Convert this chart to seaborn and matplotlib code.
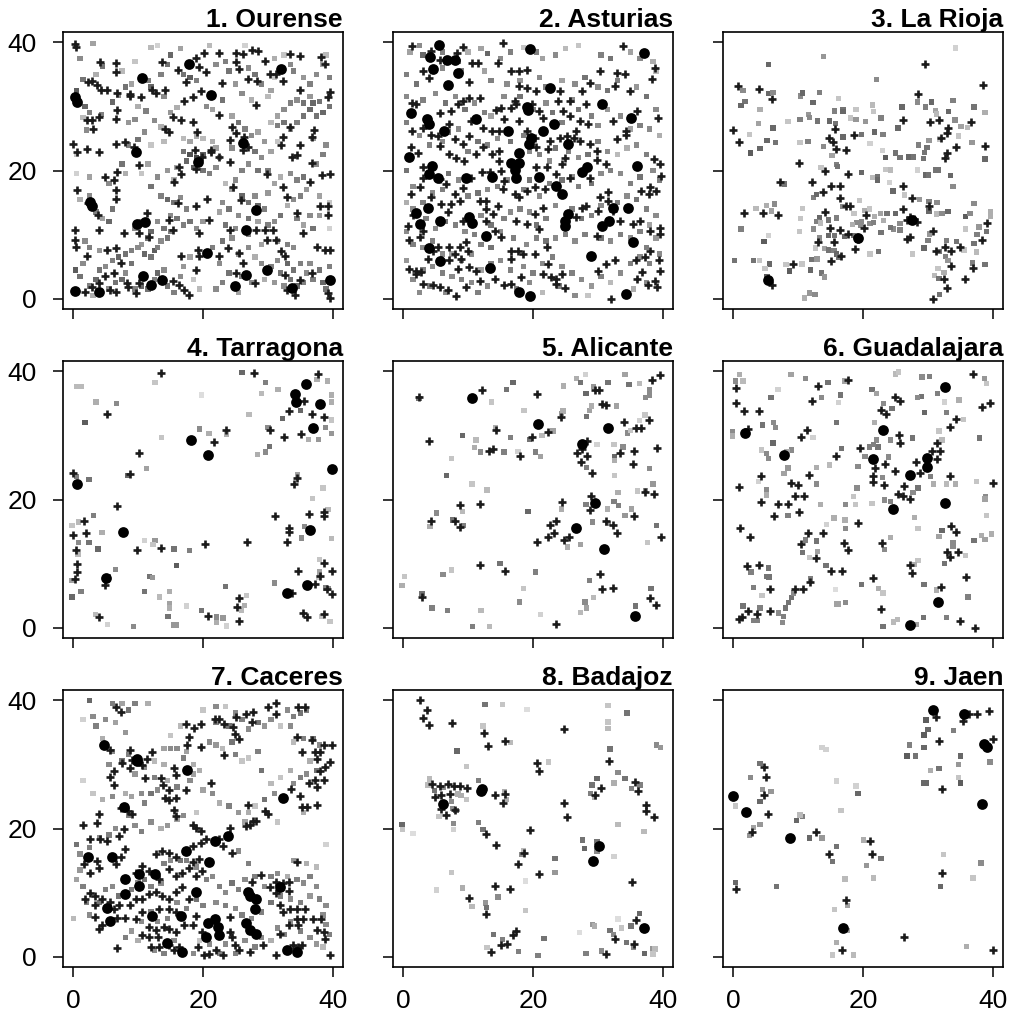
import matplotlib
matplotlib.use("Agg")
import matplotlib.pyplot as plt
import seaborn as sns
import pandas as pd

TITLES = ["1. Ourense", "2. Asturias", "3. La Rioja", "4. Tarragona", "5. Alicante",
          "6. Guadalajara", "7. Caceres", "8. Badajoz", "9. Jaen"]
TICKS = [0, 20, 40]

# ---------------- Panel 1: Ourense ----------------
P1_CI = [(0.3,31.5),(0.5,30.7),(2.6,15.1),(2.8,14.4),(9.6,22.9),(10.6,34.5),(9.8,11.7),(11.1,11.9),(19.3,21.3),
         (21.2,31.7),(20.6,7.1),(26.7,10.7),(26.1,24.3),(32.0,35.9),(28.2,13.8),(29.9,4.5),(26.6,3.7),(24.9,2.0),
         (33.7,1.7),(39.6,3.0),(0.3,1.2),(3.9,1.1),(10.7,3.5),(13.7,3.0),(11.9,2.2),(17.9,36.6)]
P1_CR = [(0.2,39.7),(0.4,39.2),(4.1,36.9),(6.5,36.7),(6.6,35.4),(2.2,33.8),(2.8,34.0),(3.6,33.4),(4.3,32.6),(5.2,32.5),
         (6.7,32.1),(8.8,32.0),(8.8,31.6),(10.5,31.5),(12.2,32.5),(12.8,32.1),(14.2,32.6),(13.7,36.9),(16.1,35.6),(17.4,33.8),
         (17.1,30.9),(18.4,31.5),(19.7,32.4),(18.9,37.6),(20.2,38.4),(19.4,36.1),(20.5,35.3),(22.5,38.3),(22.9,33.6),(25.1,38.3),
         (26.2,38.2),(27.6,38.8),(28.5,38.7),(25.1,36.9),(25.6,35.9),(26.9,34.3),(29.5,37.0),(30.3,35.1),(28.4,34.0),(31.3,35.1),
         (32.4,34.0),(33.4,38.2),(35.0,37.8),(34.9,32.6),(28.2,30.2),(39.3,31.5),(39.6,32.2),(38.9,36.6),(38.2,37.7),(0.0,24.2),
         (0.6,22.9),(2.1,23.3),(3.9,22.9),(2.1,27.8),(3.1,26.4),(2.9,27.9),(3.9,28.3),(6.5,28.1),(6.7,29.4),(6.5,24.2),
         (8.0,24.5),(9.3,23.7),(10.1,20.8),(6.7,19.8),(4.9,19.0),(6.2,18.5),(6.5,16.9),(6.5,15.6),(0.6,16.9),(2.3,14.9),
         (3.8,13.1),(3.9,10.7),(0.3,10.7),(0.3,9.2),(0.4,8.1),(2.1,6.6),(5.2,7.6),(6.5,7.9),(7.3,5.5),(6.2,4.0),
         (4.9,3.5),(3.9,2.4),(2.8,1.9),(1.8,1.1),(5.7,1.4),(6.5,1.0),(8.5,1.9),(9.6,0.9),(8.3,2.4),(10.1,2.4),
         (11.4,13.3),(10.1,10.2),(11.7,9.6),(7.8,10.2),(15.3,2.7),(16.3,2.2),(17.1,1.4),(17.9,0.6),(15.3,10.7),(16.1,14.9),
         (14.8,12.3),(14.8,26.0),(14.2,26.5),(15.3,28.3),(16.6,27.8),(18.4,27.6),(19.1,26.0),(16.3,20.6),(16.6,19.5),(15.5,18.2),
         (18.9,14.4),(18.9,20.3),(18.7,23.2),(21.2,23.2),(19.9,22.1),(20.6,15.6),(21.0,12.3),(19.4,10.2),(19.2,7.6),(19.4,6.6),
         (16.6,6.6),(18.9,4.5),(22.5,22.1),(24.1,21.3),(24.1,10.7),(24.6,17.5),(25.9,15.4),(25.6,7.1),(23.8,7.9),(22.5,6.6),
         (26.2,5.5),(25.1,4.0),(28.0,2.4),(28.2,10.7),(29.5,10.7),(29.8,9.2),(30.8,10.7),(31.3,9.2),(32.1,7.4),(32.6,6.6),
         (29.8,19.5),(32.4,17.5),(33.0,15.9),(34.5,13.3),(35.5,10.2),(32.6,3.7),(32.9,1.4),(34.2,0.6),(35.0,3.0),(36.8,4.0),
         (37.6,8.1),(38.9,7.6),(39.6,7.6),(39.3,0.9),(39.6,0.1),(38.1,14.4),(39.3,14.4),(39.3,13.1),(39.6,19.5),(38.3,19.3),
         (36.8,21.1),(36.5,18.2),(34.5,22.4),(33.7,22.1),(32.1,23.9),(32.4,25.2),(35.0,23.9),(36.8,25.2),(37.2,26.3),(33.4,26.8),
         (24.4,26.8),(25.1,25.8),(26.4,25.2),(26.2,23.2),(26.9,23.7),(24.1,24.7),(22.5,28.6),(21.2,22.9)]
P1_SQ = [(1.0,37.5,0.6),(3.0,39.8,0.7),(4.5,36.3,0.5),(3.5,35.0,0.75),(1.5,34.2,0.5),(0.5,32.5,0.4),(1.8,30.0,0.45),(2.5,29.0,0.55),
         (1.5,28.3,0.8),(2.0,26.3,0.6),(4.3,28.7,0.55),(6.0,30.7,0.45),(7.0,31.8,0.6),(8.0,33.0,0.5),(9.0,33.5,0.7),(7.5,35.5,0.8),
         (9.5,37.0,0.85),(11.5,34.0,0.55),(12.0,33.0,0.45),(10.0,30.0,0.75),(11.2,29.3,0.55),(9.5,28.0,0.6),(8.5,27.5,0.65),(12.5,27.8,0.6),
         (13.5,26.8,0.75),(11.0,26.0,0.6),(10.0,24.8,0.5),(12.0,24.0,0.85),(14.0,24.5,0.8),(15.0,29.0,0.65),(16.0,29.8,0.75),(14.0,31.5,0.6),
         (13.5,35.0,0.55),(14.5,36.5,0.5),(15.0,38.0,0.45),(12.0,39.2,0.8),(13.0,39.5,0.9),(16.5,39.0,0.7),(17.0,35.0,0.5),(18.0,34.5,0.4),
         (19.0,34.0,0.55),(20.5,30.0,0.6),(21.5,29.5,0.7),(23.0,31.0,0.5),(22.0,36.5,0.6),(23.5,37.0,0.55),(24.0,35.5,0.5),(21.0,39.5,0.8),
         (26.5,39.5,0.9),(27.0,36.0,0.6),(28.0,35.0,0.5),(29.0,33.5,0.55),(30.5,32.5,0.7),(31.0,37.5,0.75),(32.5,38.0,0.85),(33.5,36.5,0.6),
         (34.0,35.5,0.55),(35.5,34.5,0.65),(36.5,33.5,0.55),(37.5,35.0,0.6),(38.5,36.5,0.7),(39.0,38.0,0.8),(39.5,34.5,0.55),(39.5,30.0,0.5),
         (38.5,29.0,0.45),(37.5,28.5,0.5),(36.5,29.5,0.45),(35.5,30.5,0.5),(34.5,31.0,0.6),(33.5,30.5,0.55),(32.5,29.5,0.6),(31.5,28.5,0.7),
         (30.5,27.5,0.8),(31.5,27.0,0.55),(32.5,27.5,0.5),(33.5,26.5,0.65),(34.5,27.5,0.55),(35.5,28.5,0.5),(37.0,30.5,0.45),(38.0,30.8,0.5),
         (36.5,31.5,0.65),(30.0,31.5,0.8),(31.0,34.5,0.85),(25.0,33.5,0.65),(26.0,32.0,0.6),(27.5,31.0,0.75),(24.5,28.5,0.7),(25.5,27.5,0.5),
         (26.5,26.5,0.55),(27.5,25.5,0.6),(28.5,26.0,0.7),(29.5,24.5,0.65),(28.0,23.0,0.5),(29.0,22.0,0.6),(30.5,23.0,0.7),(31.5,24.5,0.85),
         (17.0,25.0,0.8),(18.0,24.5,0.7),(19.0,25.3,0.75),(20.0,25.0,0.8),(21.5,24.5,0.75),(22.0,23.5,0.7),(22.5,22.0,0.65),(22.0,20.5,0.6),
         (21.0,19.5,0.55),(20.0,20.0,0.5),(18.5,20.5,0.4),(17.5,21.5,0.45),(17.0,23.0,0.5),(18.0,22.5,0.35),(19.0,22.0,0.3),(20.0,22.5,0.4),
         (16.0,20.5,0.7),(14.5,20.0,0.65),(15.5,18.5,0.75),(13.0,19.0,0.6),(11.5,21.0,0.7),(10.5,19.5,0.85),(12.0,17.5,0.5),(13.5,16.0,0.55),
         (14.5,15.5,0.45),(15.5,15.0,0.5),(16.5,15.8,0.6),(17.5,14.0,0.55),(15.0,13.0,0.6),(16.0,12.5,0.5),(17.0,11.5,0.55),(18.0,12.0,0.5),
         (19.0,11.0,0.6),(20.0,12.0,0.65),(14.0,11.0,0.5),(13.0,12.0,0.6),(12.0,10.5,0.45),(10.5,12.0,0.55),(9.5,11.0,0.6),(11.5,9.5,0.5),
         (10.5,8.5,0.65),(6.0,14.0,0.5),(5.5,12.0,0.45),(4.5,12.5,0.7),(3.5,13.5,0.55),(2.5,16.0,0.6),(1.0,15.5,0.75),(0.5,19.5,0.9),
         (0.5,22.5,0.85),(2.5,19.0,0.7),(5.5,18.0,0.6),(7.5,21.0,0.5),(8.0,19.5,0.75),(8.5,24.0,0.55),
         (23.5,18.0,0.8),(24.5,17.0,0.7),(25.0,18.5,0.6),(26.0,16.0,0.45),(27.0,15.0,0.5),(28.5,14.5,0.45),(29.5,14.0,0.55),(28.0,16.0,0.6),
         (30.0,16.5,0.65),(31.0,18.0,0.7),(32.0,19.0,0.75),(33.5,19.5,0.6),(34.5,18.5,0.55),(35.5,19.0,0.5),(36.0,17.0,0.65),(35.0,16.0,0.55),
         (34.0,15.5,0.6),(33.0,14.5,0.75),(32.0,13.0,0.5),(31.0,12.0,0.6),(30.0,11.5,0.55),(28.5,12.0,0.7),(27.0,12.5,0.5),(25.5,13.0,0.6),
         (24.0,14.0,0.5),(23.0,15.0,0.6),(22.5,13.5,0.7),(26.0,20.0,0.55),(27.0,21.0,0.6),(28.5,20.0,0.5),(30.0,20.0,0.55),(24.5,23.5,0.6),
         (37.5,21.0,0.6),(38.5,22.5,0.55),(39.0,24.0,0.6),(37.0,25.0,0.65),(38.0,16.0,0.7),(39.5,15.0,0.85),(36.5,13.0,0.6),(37.0,11.0,0.5),
         (35.5,11.5,0.7),(34.5,12.5,0.55),
         (0.3,4.5,0.4),(1.0,3.5,0.5),(1.5,5.5,0.6),(2.5,2.0,0.55),(3.5,3.0,0.45),(4.0,4.5,0.5),(5.0,5.0,0.6),(6.0,6.0,0.55),
         (7.0,6.5,0.45),(8.0,7.0,0.5),(9.0,7.5,0.55),(10.0,8.0,0.6),(11.0,7.0,0.45),(12.0,6.5,0.5),(12.5,7.5,0.4),(13.0,8.0,0.55),
         (13.5,9.0,0.6),(14.5,9.5,0.5),(15.0,10.5,0.55),(9.0,5.5,0.5),(8.0,4.0,0.6),(7.5,3.0,0.45),(6.5,2.5,0.5),(5.5,1.5,0.6),
         (9.5,1.5,0.55),(10.5,2.0,0.45),(11.5,1.5,0.5),(12.5,3.0,0.55),(13.0,4.0,0.45),(14.0,4.5,0.6),(14.5,2.0,0.5),(15.5,1.0,0.55),
         (16.5,3.5,0.6),(17.0,5.0,0.65),(18.0,6.5,0.7),(18.5,3.0,0.85),(19.5,1.5,0.8),(3.0,0.5,0.75),(1.8,9.0,0.6),(2.5,8.0,0.55),
         (4.0,7.5,0.65),(22.0,1.5,0.6),(23.0,2.5,0.55),(24.0,4.0,0.5),(22.5,5.5,0.6),(21.5,8.0,0.55),(23.0,9.0,0.5),(24.5,9.5,0.6),
         (25.5,7.0,0.65),(27.0,8.0,0.6),(28.0,6.5,0.75),(29.0,5.5,0.6),(30.5,5.0,0.55),(31.5,6.0,0.6),(32.0,4.0,0.5),(33.0,5.5,0.45),
         (34.0,4.5,0.5),(35.0,5.5,0.55),(36.0,4.0,0.6),(37.0,3.0,0.55),(38.0,4.5,0.5),(36.5,5.5,0.6),(35.5,2.5,0.55),(34.5,2.0,0.45),
         (33.5,3.0,0.5),(32.5,2.0,0.6),(31.0,2.5,0.65),(29.5,3.0,0.75),(27.5,2.5,0.6),(26.0,3.5,0.55),(25.5,1.0,0.7),(39.0,1.5,0.5),
         (38.5,2.5,0.45),(39.5,5.0,0.55),(39.5,11.0,0.9),(38.0,13.0,0.65),(33.0,8.5,0.55),(34.0,8.0,0.6),(31.5,9.0,0.65),(29.0,8.5,0.7),
         (27.0,10.0,0.55),(25.0,11.0,0.6),(23.5,11.5,0.5)]

# ---------------- Panel 2: Asturias ----------------
P2_CI = [(5.5,39.5),(4.1,37.7),(6.8,37.3),(7.9,37.2),(8.4,35.2),(4.5,35.9),(6.9,33.4),(19.5,38.9),(37.2,38.4),(1.2,29.0),
         (3.7,28.0),(4.0,27.2),(11.2,28.0),(6.3,26.2),(16.1,26.2),(19.1,29.9),(19.3,29.5),(22.6,32.9),(30.6,30.3),(35.1,28.2),
         (21.6,26.2),(23.3,27.2),(17.9,22.8),(16.6,21.2),(17.8,21.2),(17.2,20.1),(4.4,20.7),(4.0,19.5),(5.3,18.9),(0.9,22.1),
         (9.6,18.9),(13.7,19.0),(21.0,19.0),(23.6,17.6),(24.5,16.3),(25.4,24.1),(27.5,19.7),(28.4,20.6),(36.1,20.7),(3.8,14.2),
         (1.9,13.3),(5.7,12.2),(10.1,12.8),(10.6,11.8),(2.5,11.6),(12.8,9.8),(24.9,12.2),(25.4,13.2),(24.9,11.4),(30.6,11.4),
         (34.7,14.1),(31.8,12.2),(32.4,14.1),(3.9,7.9),(5.7,5.9),(13.3,4.8),(17.9,1.1),(19.5,0.4),(28.9,6.6),(34.4,0.7),
         (35.5,8.8),(19.4,24.1),(19.7,25.1),(17.3,18.9)]
P2_CR = [(1.3,39.4),(4.3,38.7),(9.2,39.2),(15.4,39.9),(8.2,38.4),(5.6,37.3),(3.0,35.5),(3.9,34.5),(10.2,33.8),(10.6,36.8),
         (11.5,36.8),(14.6,36.8),(16.6,35.5),(17.9,35.5),(19.0,35.7),(17.9,33.2),(19.0,32.9),(20.5,32.4),(23.9,30.8),(24.1,32.4),
         (25.7,30.8),(27.5,32.4),(28.8,33.7),(30.3,35.5),(32.9,35.2),(34.2,35.0),(35.0,32.4),(38.3,34.2),(38.8,36.0),(33.9,39.4),
         (32.6,33.2),(32.4,27.7),(32.9,24.9),(34.3,26.2),(34.3,25.6),(36.0,29.3),(39.3,28.2),(38.6,21.8),(39.6,21.0),(39.8,19.2),
         (38.1,17.4),(36.7,16.8),(37.9,16.3),(38.9,16.8),(39.6,11.1),(39.6,10.1),(38.0,10.6),(36.5,12.2),(35.5,11.6),(33.4,12.2),
         (31.6,16.6),(31.6,15.3),(30.3,15.9),(30.1,13.7),(28.2,14.5),(27.5,14.2),(26.7,12.7),(32.4,13.7),(29.8,9.8),(32.6,6.0),
         (31.3,5.4),(30.1,4.4),(32.1,0.0),(35.9,6.0),(37.3,6.5),(38.1,7.5),(39.5,6.1),(39.6,4.4),(38.8,2.8),(37.8,2.1),
         (39.1,1.8),(36.8,4.1),(36.0,3.1),(24.9,1.6),(23.6,2.3),(23.5,3.1),(24.4,3.9),(22.7,3.4),(21.5,3.9),(22.3,5.4),
         (18.2,3.4),(16.6,2.3),(15.6,2.1),(14.1,3.1),(11.8,2.8),(9.7,1.8),(8.1,0.5),(6.9,1.3),(5.6,1.8),(4.5,2.1),
         (3.0,2.3),(2.0,3.9),(0.9,4.7),(2.0,4.4),(2.7,4.1),(5.8,6.0),(7.1,6.0),(8.9,6.2),(8.4,4.7),(10.2,4.9),
         (11.2,4.4),(9.9,7.5),(9.7,8.8),(8.7,8.0),(7.9,7.0),(7.1,8.0),(5.3,8.0),(4.5,7.5),(3.8,6.2),(2.5,9.6),
         (0.9,9.1),(0.7,11.4),(3.0,10.6),(1.5,13.0),(4.3,15.8),(5.8,14.8),(7.4,14.8),(6.9,13.5),(8.7,15.3),(9.2,12.2),
         (11.8,15.3),(12.8,15.3),(12.8,14.0),(13.8,13.2),(14.6,14.5),(12.8,12.2),(14.1,10.6),(15.1,9.6),(16.6,7.5),(17.7,7.5),
         (16.6,6.2),(18.5,7.0),(20.3,7.0),(22.1,8.0),(17.4,12.2),(19.0,11.6),(21.0,10.9),(21.5,14.2),(20.3,13.2),(19.0,16.8),
         (20.3,17.4),(21.8,17.1),(23.6,19.4),(24.4,21.0),(24.9,22.0),(24.1,25.1),(25.2,25.4),(26.4,25.1),(27.2,24.6),(28.8,24.1),
         (29.8,23.1),(29.8,21.6),(31.3,21.0),(28.8,18.9),(25.7,18.9),(22.1,20.5),(20.5,20.5),(20.5,23.6),(20.3,25.1),(22.6,24.6),
         (22.3,23.3),(19.0,26.2),(17.9,27.7),(17.4,30.3),(16.6,29.8),(15.1,29.8),(14.3,29.5),(15.6,28.0),(14.8,26.2),(13.6,26.2),
         (12.3,26.7),(10.5,27.7),(10.2,25.4),(9.2,24.1),(7.9,24.9),(7.1,27.2),(5.3,25.4),(4.3,25.6),(3.0,26.7),(1.4,26.2),
         (1.4,30.6),(2.0,30.3),(5.6,29.0),(7.4,29.3),(8.4,30.3),(9.2,30.8),(10.2,31.3),(11.8,31.3),(5.6,23.8),(7.1,22.5),
         (8.1,22.0),(9.4,21.5),(11.2,22.5),(12.3,23.6),(13.6,22.5),(14.8,23.1),(14.8,21.5),(15.1,19.9),(15.6,18.4),(15.4,17.1),
         (17.2,16.3),(17.9,15.8),(13.3,19.7),(12.2,19.7),(10.5,18.9),(9.2,17.3),(7.9,16.3),(6.6,17.9),(5.6,18.6),(3.0,18.9),
         (2.5,17.4),(1.2,16.3),(1.2,23.6),(2.2,22.8),(3.0,20.5),(26.7,26.2),(27.2,27.7),(28.5,27.2),(25.7,28.5),(28.2,30.3),
         (24.7,29.3),(21.5,28.2),(21.0,29.3),(19.8,30.3),(17.2,30.8)]
P2_SQ = [(1.0,38.5,0.7),(2.5,39.5,0.6),(3.0,38.0,0.45),(6.0,38.5,0.55),(8.5,37.0,0.5),(10.0,38.5,0.75),(12.0,39.0,0.7),(13.0,38.2,0.45),
         (15.0,37.5,0.6),(16.5,38.5,0.55),(18.5,39.2,0.85),(20.5,38.5,0.55),(21.5,37.5,0.7),(23.5,38.0,0.6),(25.0,39.0,0.8),(27.0,39.5,0.85),
         (30.5,38.0,0.55),(32.0,37.5,0.5),(35.0,38.5,0.7),(36.5,37.5,0.6),(38.5,37.0,0.75),(39.0,35.5,0.8),(0.5,35.0,0.55),(2.0,33.5,0.5),
         (6.0,36.0,0.6),(9.0,35.5,0.55),(12.5,35.5,0.7),(13.5,34.0,0.55),(16.0,33.5,0.6),(18.0,34.0,0.65),(21.0,34.5,0.6),(22.0,33.0,0.55),
         (24.5,34.0,0.7),(26.5,33.5,0.6),(28.0,34.5,0.5),(30.0,33.0,0.6),(31.5,32.5,0.5),(33.0,34.0,0.55),(36.0,33.0,0.65),(37.5,31.5,0.5),
         (0.5,31.5,0.6),(3.0,31.0,0.55),(5.0,32.0,0.6),(6.5,30.5,0.5),(8.0,31.5,0.6),(9.5,29.5,0.5),(11.0,30.5,0.6),(12.5,29.0,0.55),
         (13.5,28.5,0.7),(15.5,31.5,0.6),(18.0,31.5,0.5),(20.0,29.5,0.55),(22.0,30.5,0.6),(23.0,29.0,0.5),(24.5,27.5,0.55),(26.0,31.0,0.6),
         (27.0,29.5,0.5),(29.0,28.5,0.55),(30.0,27.0,0.6),(31.5,29.5,0.65),(33.5,28.5,0.6),(35.0,26.5,0.7),(36.5,27.0,0.55),(38.0,26.5,0.6),
         (39.5,25.5,0.75),(39.0,29.5,0.6),(0.5,27.5,0.55),(2.5,25.5,0.6),(4.0,24.0,0.55),(6.0,24.5,0.6),(7.0,26.0,0.5),(8.5,26.5,0.6),
         (10.0,23.0,0.55),(11.5,24.5,0.5),(13.0,24.0,0.55),(14.5,25.0,0.6),(16.5,24.5,0.5),(18.5,25.5,0.55),(19.5,23.0,0.6),(21.0,22.5,0.55),
         (22.5,21.5,0.6),(23.5,23.5,0.5),(25.5,23.0,0.55),(27.0,22.0,0.6),(28.5,22.5,0.5),(30.0,24.5,0.55),(31.5,23.0,0.6),(33.0,22.5,0.8),
         (34.5,23.5,0.75),(36.0,24.0,0.6),(37.5,22.5,0.55),(38.5,20.0,0.6),(39.5,18.5,0.55),(36.5,19.0,0.5),(35.0,18.0,0.55),(33.5,19.5,0.6),
         (32.0,20.0,0.55),(30.5,19.5,0.6),(29.0,18.0,0.5),(27.0,17.5,0.55),(26.0,19.0,0.6),(24.5,18.5,0.5),(22.5,18.0,0.55),(21.0,16.0,0.6),
         (19.5,18.5,0.5),(18.5,17.0,0.55),(16.0,18.5,0.6),(14.5,17.5,0.55),(13.0,17.0,0.6),(11.5,16.5,0.5),(10.0,16.0,0.55),(8.5,18.5,0.6),
         (7.0,19.5,0.5),(6.0,17.0,0.55),(4.5,16.5,0.6),(3.0,15.0,0.55),(1.5,17.5,0.6),(0.5,20.0,0.5),(0.5,15.0,0.75),(1.5,14.0,0.6),
         (3.5,12.5,0.55),(5.0,11.0,0.6),(6.5,12.0,0.5),(8.0,11.5,0.55),(9.5,10.5,0.6),(11.0,10.0,0.55),(12.0,13.0,0.6),(13.5,11.5,0.5),
         (15.5,12.5,0.55),(16.5,13.5,0.6),(18.0,14.0,0.55),(19.5,13.5,0.6),(20.5,11.5,0.5),(22.0,12.5,0.55),(23.5,14.5,0.6),(26.0,14.0,0.55),
         (27.5,12.5,0.5),(29.0,13.0,0.55),(30.5,14.5,0.6),(33.0,15.0,0.55),(34.5,16.0,0.6),(36.0,15.5,0.5),(37.5,14.0,0.55),(39.0,13.0,0.6),
         (38.0,11.5,0.7),(36.5,10.5,0.55),(35.0,9.5,0.6),(33.5,10.0,0.55),(32.0,9.0,0.6),(30.5,9.5,0.5),(28.0,10.0,0.55),(26.5,9.0,0.6),
         (25.0,10.0,0.55),(23.5,9.5,0.6),(22.0,9.0,0.5),(20.5,9.5,0.55),(19.0,8.5,0.6),(17.0,9.5,0.55),(15.0,10.5,0.6),(13.5,8.0,0.5),
         (12.0,8.5,0.55),(10.5,7.0,0.6),(9.0,6.0,0.55),(7.5,7.0,0.7),(6.0,7.0,0.6),(4.5,9.0,0.55),(3.0,8.0,0.6),(1.5,8.5,0.55),
         (0.5,10.5,0.6),(0.5,6.0,0.65),(1.5,3.0,0.6),(3.0,4.5,0.55),(4.5,5.0,0.6),(6.0,4.0,0.55),(7.5,3.5,0.6),(9.0,3.0,0.55),
         (10.5,2.5,0.6),(12.0,4.5,0.7),(13.5,5.5,0.55),(15.0,6.0,0.6),(16.5,4.5,0.55),(18.5,5.0,0.6),(20.0,4.0,0.55),(21.5,5.5,0.6),
         (23.0,6.5,0.55),(24.5,5.0,0.6),(26.0,4.0,0.55),(27.5,3.0,0.6),(29.0,2.0,0.65),(30.5,3.5,0.55),(32.0,2.5,0.8),(33.5,4.0,0.6),
         (35.0,5.5,0.55),(36.5,6.5,0.6),(38.0,5.5,0.55),(39.5,7.0,0.6),(39.0,9.5,0.65),(37.5,8.0,0.55),(2.5,1.0,0.6),(4.0,2.0,0.55),
         (6.5,1.0,0.6),(11.5,1.0,0.55),(13.0,2.0,0.6),(17.5,1.5,0.55),(19.5,2.5,0.6),(21.5,1.0,0.8),(26.5,0.5,0.6),(28.5,0.5,0.85),
         (24.0,2.0,0.55),(35.5,1.5,0.75),(37.5,2.5,0.6)]

# ---------------- Panel 3: La Rioja ----------------
P3_CI = [(5.4,3.0),(27.5,12.3),(19.2,9.5)]
P3_CR = [(0.7,33.2),(4.0,32.7),(5.9,31.1),(0.0,26.3),(0.8,24.5),(10.2,21.2),(7.2,18.2),(1.7,13.3),(4.6,13.3),(6.9,13.1),
         (5.4,3.1),(5.9,2.2),(9.2,5.4),(12.1,18.2),(13.8,16.6),(14.2,19.9),(15.1,17.6),(16.4,17.6),(16.4,15.7),(14.7,25.1),
         (15.4,24.4),(15.7,26.4),(15.9,23.3),(17.3,23.2),(17.7,19.4),(17.4,14.4),(18.0,14.4),(14.1,13.6),(14.9,11.1),(16.4,10.7),
         (17.7,10.1),(15.5,8.8),(13.0,8.8),(16.6,6.7),(15.1,5.9),(18.8,7.8),(19.1,9.6),(19.2,9.3),(18.6,25.6),(20.4,13.1),
         (20.1,11.1),(26.2,27.9),(28.5,32.0),(29.5,36.6),(26.2,17.6),(27.6,15.7),(26.2,14.0),(26.8,12.3),(27.3,12.3),(27.9,12.4),
         (28.3,11.9),(27.3,12.7),(26.8,9.3),(27.3,9.6),(30.2,14.5),(30.3,27.6),(31.7,27.8),(32.1,25.1),(33.1,26.7),(32.9,25.8),
         (33.0,22.7),(32.7,21.9),(34.4,23.6),(36.6,27.5),(38.5,33.4),(38.9,23.8),(30.8,10.5),(31.3,7.4),(32.7,8.0),(33.5,7.5),
         (34.9,8.0),(33.6,5.1),(32.5,3.1),(33.0,1.6),(30.8,-0.1),(35.7,3.1),(37.0,4.8),(38.3,9.1),(39.2,11.8)]
P3_SQ = [(5.4,36.5,0.45),(13.9,37.8,0.65),(22.1,34.2,0.6),(34.3,39.1,0.9),(1.5,32.5,0.6),(1.8,30.8,0.5),(1.2,30.1,0.45),(4.1,29.5,0.75),
         (5.4,32.0,0.45),(6.1,32.2,0.6),(3.9,27.3,0.7),(6.1,26.6,0.45),(5.2,24.7,0.45),(6.5,24.4,0.5),(4.1,23.4,0.45),(2.6,22.7,0.4),
         (2.5,25.6,0.85),(8.4,27.6,0.85),(10.3,28.0,0.55),(10.4,31.6,0.6),(10.7,32.1,0.45),(11.6,28.7,0.65),(11.7,28.3,0.6),(12.3,30.6,0.45),
         (13.0,27.7,0.5),(13.3,32.2,0.55),(14.8,27.7,0.45),(15.6,29.3,0.55),(16.2,31.2,0.85),(16.9,29.5,0.5),(16.9,29.2,0.45),(15.8,27.3,0.5),
         (10.3,24.4,0.85),(11.5,24.5,0.55),(13.9,23.7,0.6),(15.2,22.3,0.7),(15.9,20.9,0.55),(16.1,20.6,0.5),(13.5,20.5,0.85),(16.9,25.2,0.45),
         (18.1,28.2,0.85),(18.9,28.0,0.65),(18.9,29.5,0.85),(19.8,25.6,0.5),(20.4,27.6,0.65),(21.6,29.2,0.85),(22.8,28.2,0.55),(21.5,30.2,0.8),
         (21.8,26.0,0.45),(23.1,25.6,0.55),(21.1,24.2,0.9),(23.0,23.1,0.9),(23.5,22.0,0.4),(25.0,22.7,0.5),(25.7,22.0,0.5),(27.1,22.1,0.45),
         (27.8,22.1,0.5),(25.4,26.6,0.45),(26.0,29.9,0.45),(28.4,30.7,0.6),(29.6,29.9,0.55),(30.6,30.7,0.45),(31.2,29.4,0.7),(31.3,28.8,0.8),
         (33.2,29.2,0.45),(33.9,30.9,0.55),(34.2,27.9,0.6),(35.1,26.9,0.7),(36.1,26.7,0.8),(34.7,25.4,0.85),(37.1,29.9,0.5),(38.8,29.0,0.75),
         (38.8,21.8,0.45),(36.8,24.4,0.65),(31.8,24.9,0.85),(30.2,24.7,0.65),(29.9,23.6,0.5),(28.6,24.0,0.55),(29.5,22.8,0.5),(29.3,21.9,0.5),
         (28.4,20.1,0.9),(29.7,19.3,0.45),(30.1,19.3,0.5),(31.2,20.1,0.5),(31.6,20.1,0.5),(33.5,19.2,0.45),(33.9,17.5,0.6),(22.2,19.0,0.5),
         (22.2,18.5,0.45),(23.5,20.2,0.85),(24.2,20.1,0.8),(24.1,18.1,0.9),(21.5,18.9,0.8),(19.8,19.7,0.45),(24.6,16.8,0.45),(26.4,16.2,0.85),
         (28.7,15.5,0.65),(30.2,15.2,0.55),(31.4,15.0,0.6),(30.2,13.7,0.45),(31.3,13.2,0.8),(32.2,13.3,0.6),(33.1,13.6,0.45),(37.1,14.9,0.6),
         (35.8,12.8,0.4),(36.5,13.3,0.6),(39.7,13.5,0.75),(39.7,12.8,0.75),(37.9,11.2,0.65),(39.1,10.5,0.5),(37.6,10.0,0.55),(35.8,10.9,0.85),
         (34.4,8.9,0.5),(32.9,9.1,0.55),(30.3,10.1,0.65),(30.0,9.1,0.55),(29.4,7.9,0.45),(31.7,7.4,0.5),(32.7,6.6,0.55),(33.1,6.0,0.65),
         (32.5,4.1,0.75),(31.6,4.7,0.85),(31.0,3.6,0.8),(31.7,3.2,0.5),(31.8,0.7,0.5),(37.1,8.6,0.5),(37.5,7.3,0.8),(36.9,5.6,0.55),
         (38.8,5.3,0.5),(35.6,7.6,0.85),(27.6,7.0,0.85),(25.7,10.7,0.55),(24.7,10.9,0.6),(24.2,11.1,0.5),(25.7,11.7,0.6),(25.0,13.3,0.45),
         (23.7,13.3,0.5),(22.7,13.3,0.7),(23.2,12.2,0.75),(21.8,12.8,0.75),(21.1,11.7,0.6),(21.6,11.9,0.55),(22.8,10.3,0.5),(21.0,14.0,0.85),
         (19.8,12.0,0.6),(19.1,11.9,0.6),(19.6,11.4,0.6),(20.2,13.8,0.75),(19.5,15.3,0.85),(18.6,13.3,0.85),(18.4,11.6,0.75),(18.5,9.9,0.5),
         (19.2,9.1,0.4),(21.1,7.0,0.85),(22.4,7.4,0.5),(16.9,14.4,0.6),(15.9,12.6,0.55),(14.7,12.3,0.5),(13.3,12.7,0.45),(12.9,12.0,0.55),
         (13.4,11.8,0.8),(12.4,10.9,0.6),(14.7,9.9,0.45),(15.6,9.9,0.5),(17.1,9.7,0.45),(14.1,7.8,0.7),(14.7,7.6,0.5),(15.5,7.5,0.55),
         (15.9,7.0,0.45),(16.2,6.5,0.5),(13.3,9.5,0.6),(12.7,7.9,0.85),(12.1,6.1,0.5),(12.9,6.2,0.65),(11.9,4.5,0.45),(13.6,4.0,0.5),
         (14.1,3.4,0.65),(11.7,0.9,0.65),(12.6,0.7,0.6),(11.0,0.1,0.75),(10.2,10.5,0.85),(10.4,12.5,0.85),(12.4,15.8,0.55),(12.8,16.3,0.45),
         (10.7,14.1,0.85),(5.6,5.4,0.45),(4.9,4.7,0.85),(5.2,3.4,0.4),(4.0,6.0,0.85),(3.1,6.0,0.5),(0.2,6.0,0.5),(1.2,10.9,0.55),
         (4.7,8.9,0.4),(5.4,9.9,0.9),(3.5,14.1,0.8),(5.1,14.5,0.75),(5.9,13.7,0.7),(6.3,14.8,0.6),(7.9,17.9,0.5),(8.7,4.3,0.4),
         (8.1,5.3,0.85),(10.6,5.4,0.85)]

# ---------------- Panel 4: Tarragona ----------------
P4_CI = [(18.1,29.3),(20.8,27.0),(0.5,22.4),(7.7,14.9),(5.0,7.8),(39.9,24.7),(34.2,36.5),(34.3,35.2),(35.9,38.0),(38.0,34.9),
         (36.9,31.2),(36.5,15.3),(36.1,6.7),(32.9,5.4)]
P4_CR = [(13.5,39.7),(27.9,39.7),(5.2,33.4),(10.1,27.2),(8.8,24.0),(6.8,19.0),(21.7,28.9),(23.6,30.8),(30.4,30.8),(32.5,29.8),
         (33.2,33.8),(35.1,30.2),(36.8,33.4),(37.7,39.6),(35.6,35.4),(38.6,32.8),(34.0,22.4),(34.5,23.3),(0.0,24.2),(0.0,14.4),
         (0.4,12.2),(0.6,9.9),(0.6,8.7),(0.3,7.6),(1.6,16.7),(1.9,14.8),(4.9,6.7),(3.9,1.7),(9.8,12.1),(13.5,12.4),
         (20.3,13.1),(20.7,1.9),(25.3,3.2),(25.5,4.7),(25.6,1.0),(26.8,13.4),(31.1,17.4),(33.2,15.6),(33.3,15.0),(33.0,13.4),
         (36.4,17.7),(34.7,8.9),(33.8,5.4),(37.3,6.8),(38.0,8.1),(38.6,10.1),(38.7,18.0),(38.6,17.4),(39.9,8.9),(39.9,5.3),
         (39.1,6.0),(35.4,2.3),(36.0,1.7),(38.6,2.2)]
P4_SQ = [(0.5,37.6,0.8),(1.2,37.6,0.8),(1.8,32.0,0.4),(3.5,35.2,0.75),(6.7,35.0,0.6),(12.6,38.2,0.85),(13.6,29.7,0.85),(11.3,24.8,0.7),
         (8.4,23.7,0.45),(2.4,23.1,0.5),(0.5,23.6,0.55),(-0.2,15.9,0.85),(0.8,16.5,0.8),(3.1,17.5,0.55),(2.4,13.3,0.5),(0.8,13.3,0.6),
         (3.8,12.3,0.45),(4.4,14.9,0.75),(0.7,11.4,0.8),(-0.2,7.4,0.7),(-0.2,4.8,0.45),(1.2,5.7,0.55),(6.5,9.1,0.6),(5.4,8.0,0.5),
         (11.0,13.6,0.9),(12.6,13.6,0.65),(12.3,13.0,0.85),(15.5,12.3,0.5),(17.9,12.0,0.55),(15.9,9.7,0.4),(11.7,8.0,0.5),(12.2,7.8,0.65),
         (11.0,5.7,0.5),(13.3,4.8,0.8),(14.8,5.7,0.75),(14.8,3.8,0.7),(14.8,3.1,0.75),(14.6,1.8,0.5),(15.5,0.4,0.65),(15.9,0.4,0.65),
         (17.5,3.4,0.9),(9.3,0.2,0.6),(5.3,0.5,0.9),(3.4,2.1,0.8),(19.8,2.7,0.5),(22.1,1.7,0.6),(22.1,0.8,0.75),(23.1,1.5,0.65),
         (23.5,6.4,0.5),(23.6,0.3,0.9),(26.7,5.0,0.85),(26.4,3.5,0.75),(25.9,2.7,0.8),(31.0,7.0,0.6),(19.5,31.0,0.6),(20.9,30.3,0.75),
         (23.6,30.2,0.75),(19.8,36.3,0.95),(26.0,39.8,0.45),(29.6,38.2,0.55),(29.0,36.5,0.8),(27.1,33.3,0.8),(30.0,31.2,0.6),(30.3,28.3,0.5),
         (29.6,27.4,0.6),(28.4,27.0,0.75),(31.6,37.2,0.75),(32.3,32.6,0.45),(35.0,33.9,0.45),(36.3,29.4,0.75),(37.8,29.4,0.65),(37.6,38.7,0.75),
         (39.2,38.5,0.75),(39.8,36.3,0.75),(39.8,35.2,0.75),(39.8,32.4,0.85),(38.9,31.2,0.6),(39.8,30.3,0.65),(34.6,23.8,0.7),(38.5,21.8,0.85),
         (36.9,20.2,0.85),(39.3,18.4,0.8),(35.2,14.0,0.6),(35.7,15.8,0.6),(39.8,13.9,0.8),(38.0,10.6,0.85),(38.0,8.7,0.7),(37.8,7.8,0.85),
         (38.9,6.2,0.55),(39.4,6.1,0.6),(39.6,1.0,0.85),(38.3,1.8,0.85)]

# ---------------- Panel 5: Alicante ----------------
P5_CI = [(10.6,35.9),(20.8,31.8),(31.5,31.2),(27.6,28.6),(29.5,19.5),(26.6,15.5),(30.9,12.3),(35.8,1.8)]
P5_CR = [(2.4,36.0),(12.2,37.0),(20.6,36.4),(3.9,29.2),(14.3,30.8),(13.2,27.6),(13.8,27.8),(18.0,26.8),(19.8,29.8),(22.3,30.6),
         (24.3,32.8),(29.5,37.0),(30.2,37.0),(30.7,34.9),(31.2,34.7),(34.0,32.1),(35.9,31.1),(36.6,31.1),(37.9,32.4),(38.3,38.7),
         (39.6,39.4),(39.2,28.1),(35.6,27.6),(35.4,25.5),(33.4,27.2),(26.8,27.2),(27.4,25.9),(28.4,26.8),(28.4,29.1),(29.1,24.2),
         (27.6,27.9),(37.3,21.2),(38.6,20.9),(8.8,19.2),(11.8,19.3),(4.3,16.7),(7.9,16.6),(8.7,15.7),(24.5,19.6),(23.5,16.7),
         (22.6,16.1),(23.2,14.8),(22.3,14.1),(20.6,13.4),(24.8,13.7),(25.6,14.1),(29.0,20.6),(28.8,18.3),(31.3,16.7),(32.4,16.1),
         (33.0,14.8),(35.6,17.4),(39.8,14.1),(11.8,9.8),(15.7,8.8),(2.9,4.8),(30.3,8.4),(30.7,6.0),(32.4,6.2),(38.0,4.6),
         (39.0,3.5),(23.5,0.6)]
P5_SQ = [(2.4,35.8,0.5),(16.9,38.2,0.45),(15.9,37.2,0.5),(13.6,35.2,0.85),(18.6,33.9,0.85),(9.1,30.0,0.45),(11.2,29.3,0.8),(11.0,28.1,0.75),
         (11.9,27.4,0.6),(15.5,27.4,0.55),(16.5,29.7,0.55),(14.2,31.2,0.75),(17.7,27.5,0.9),(19.5,29.4,0.5),(20.4,27.4,0.55),(21.2,26.7,0.7),
         (21.4,30.0,0.8),(23.1,30.7,0.7),(24.4,33.4,0.65),(24.6,33.8,0.75),(24.7,37.7,0.75),(26.7,38.9,0.75),(27.3,38.2,0.5),(28.1,39.5,0.9),
         (28.2,36.5,0.45),(29.3,37.6,0.65),(28.3,32.9,0.5),(28.7,33.9,0.7),(29.0,34.6,0.75),(31.6,38.2,0.5),(32.9,34.6,0.7),(34.2,39.5,0.7),
         (34.8,37.9,0.5),(36.4,38.1,0.8),(38.0,37.2,0.6),(38.0,36.3,0.6),(37.4,35.9,0.6),(36.4,32.3,0.9),(37.3,33.2,0.85),(34.6,30.4,0.6),
         (35.0,30.8,0.85),(32.5,28.6,0.85),(33.9,28.2,0.6),(32.6,26.7,0.45),(32.6,26.1,0.75),(28.3,25.0,0.55),(29.9,28.6,0.9),(38.0,24.8,0.6),
         (38.5,22.4,0.65),(37.4,21.4,0.6),(36.1,21.3,0.85),(33.1,21.1,0.75),(32.5,19.7,0.55),(33.2,19.1,0.55),(35.2,18.5,0.7),(34.2,17.5,0.65),
         (31.5,18.5,0.75),(28.2,19.2,0.55),(24.4,18.5,0.75),(29.2,16.5,0.6),(31.6,16.3,0.6),(39.1,15.9,0.5),(37.7,13.3,0.85),(25.3,12.6,0.75),
         (27.3,13.0,0.7),(19.2,18.1,0.45),(12.9,21.5,0.8),(10.6,22.4,0.85),(6.7,23.7,0.45),(7.4,26.4,0.85),(5.1,17.9,0.6),(7.6,16.8,0.5),
         (9.3,15.9,0.55),(4.1,15.8,0.75),(9.1,18.1,0.8),(14.9,10.0,0.5),(20.4,8.7,0.55),(7.4,9.0,0.85),(6.1,8.3,0.6),(0.2,8.0,0.85),
         (-0.2,6.6,0.75),(2.9,5.3,0.5),(4.4,3.1,0.55),(6.8,2.7,0.55),(12.0,2.7,0.8),(10.7,0.2,0.55),(13.3,0.2,0.8),(17.9,4.0,0.6),
         (18.5,6.1,0.85),(21.2,2.1,0.9),(28.7,7.4,0.55),(29.3,4.7,0.8),(28.0,4.0,0.6),(28.3,3.1,0.7),(27.3,2.4,0.8),(32.6,23.7,0.85),
         (38.2,6.1,0.5),(35.8,3.4,0.5)]

# ---------------- Panel 6: Guadalajara ----------------
P6_CI = [(32.6,37.6),(1.8,30.3),(7.8,27.0),(23.1,30.8),(21.5,26.3),(29.9,26.4),(29.8,25.1),(27.3,23.8),(24.6,18.5),(32.6,19.4),
         (31.6,4.0),(27.3,0.4)]
P6_CR = [(0.4,37.4),(0.4,35.1),(1.7,33.8),(4.0,33.8),(2.3,31.0),(10.4,29.8),(11.4,30.8),(12.1,35.3),(13.1,37.7),(17.7,38.7),
         (15.9,26.8),(11.7,23.8),(4.3,23.6),(0.8,22.0),(8.9,22.5),(9.9,22.3),(9.5,20.6),(10.9,20.6),(6.9,19.3),(8.4,19.3),
         (4.3,19.6),(10.2,18.0),(6.3,17.4),(1.0,15.6),(2.6,14.1),(11.5,14.8),(13.8,14.8),(10.5,13.1),(17.0,13.2),(17.7,12.1),
         (19.3,16.3),(19.6,28.1),(21.8,24.9),(21.5,23.6),(21.6,22.7),(23.2,22.3),(23.4,25.5),(24.9,24.4),(25.5,30.1),(25.7,28.8),
         (22.8,33.9),(23.6,33.4),(24.9,36.0),(25.7,35.4),(25.4,20.9),(26.2,20.6),(27.2,20.1),(26.4,22.1),(28.1,25.9),(28.8,24.1),
         (30.6,27.6),(31.4,28.8),(31.9,27.6),(31.4,26.3),(34.4,32.5),(33.4,31.3),(33.4,23.6),(38.3,34.5),(39.6,35.1),(37.0,39.6),
         (40.0,22.5),(33.6,15.8),(34.4,15.0),(33.0,11.8),(34.6,11.8),(33.4,11.0),(27.2,9.8),(27.5,8.5),(22.9,13.2),(21.5,7.8),
         (22.7,3.0),(32.1,6.3),(35.9,7.9),(34.9,1.0),(37.3,0.0),(2.1,9.6),(4.0,9.8),(5.7,6.0),(5.7,2.6),(0.8,1.3),
         (2.3,2.6),(3.7,2.2),(9.5,6.1),(10.8,6.1),(11.8,7.2),(15.1,8.8),(16.8,8.8),(12.8,10.8),(1.4,1.7)]
P6_SQ = [(0.3,38.5,0.6),(0.9,39.5,0.75),(1.5,38.5,0.8),(-0.1,30.6,0.6),(-0.1,29.9,0.75),(5.8,35.9,0.5),(6.9,37.2,0.9),(8.9,39.5,0.7),
         (11.1,38.9,0.6),(14.6,38.2,0.5),(17.2,38.5,0.7),(13.6,35.9,0.6),(16.5,36.3,0.5),(16.2,35.1,0.9),(4.5,31.6,0.5),(6.2,32.0,0.6),
         (6.5,31.2,0.6),(6.1,28.8,0.45),(5.1,27.2,0.6),(5.4,26.4,0.6),(4.3,27.7,0.85),(9.0,27.7,0.6),(8.3,27.5,0.75),(8.4,24.9,0.65),
         (7.8,24.1,0.7),(12.3,29.7,0.9),(15.9,32.0,0.5),(16.7,28.0,0.5),(12.8,25.0,0.75),(14.8,25.4,0.8),(3.9,22.8,0.9),(5.1,21.5,0.6),
         (5.1,20.7,0.75),(8.4,17.5,0.55),(12.8,22.4,0.6),(13.4,19.2,0.75),(17.3,19.2,0.6),(18.8,19.2,0.85),(19.1,21.8,0.6),(18.5,20.5,0.85),
         (21.4,19.4,0.85),(15.5,17.1,0.75),(14.4,16.1,0.9),(17.2,16.8,0.75),(17.3,15.5,0.6),(12.8,13.5,0.5),(10.7,11.7,0.5),(13.0,11.9,0.7),
         (11.7,11.0,0.85),(11.1,13.7,0.55),(14.3,9.7,0.5),(2.7,8.7,0.55),(5.4,9.3,0.5),(5.1,8.0,0.5),(5.5,7.9,0.5),(3.1,6.3,0.55),
         (4.4,5.0,0.85),(4.1,3.1,0.55),(1.5,3.4,0.5),(3.1,1.1,0.55),(3.7,1.1,0.55),(7.0,2.3,0.6),(7.7,1.8,0.55),(7.6,0.8,0.6),
         (8.0,3.1,0.5),(8.5,3.9,0.5),(9.0,4.7,0.5),(9.3,5.4,0.6),(11.9,7.6,0.55),(15.9,3.7,0.7),(16.2,3.7,0.7),(17.3,3.9,0.6),
         (15.8,6.0,0.95),(19.8,6.7,0.5),(22.4,6.1,0.75),(23.1,5.4,0.85),(23.1,0.2,0.5),(24.7,0.9,0.8),(25.3,1.3,0.8),(28.3,0.5,0.7),
         (29.3,1.6,0.5),(32.9,1.6,0.55),(36.2,4.8,0.55),(29.4,6.7,0.5),(31.3,5.9,0.75),(32.6,10.0,0.5),(28.5,10.5,0.85),(27.9,9.9,0.75),
         (31.7,14.2,0.7),(32.2,15.2,0.45),(33.9,13.2,0.6),(33.9,12.7,0.6),(35.8,11.3,0.85),(37.1,13.6,0.5),(38.3,14.4,0.75),(38.8,13.8,0.7),
         (39.8,14.6,0.75),(39.1,17.5,0.85),(38.9,20.5,0.6),(38.8,20.1,0.7),(37.5,22.8,0.85),(34.3,22.4,0.75),(32.9,22.4,0.8),(30.9,22.4,0.75),
         (27.9,17.2,0.75),(28.5,15.5,0.85),(24.2,14.1,0.75),(23.3,12.2,0.6),(38.0,29.6,0.5),(35.5,32.5,0.85),(34.8,35.5,0.75),(32.9,33.6,0.55),
         (32.6,35.2,0.9),(31.5,36.5,0.55),(29.1,39.1,0.6),(30.3,39.2,0.55),(29.0,36.1,0.5),(28.4,35.9,0.6),(29.5,33.6,0.45),(27.6,29.6,0.5),
         (25.0,39.6,0.8),(25.5,39.9,0.85),(21.4,37.2,0.5),(22.1,36.5,0.7),(23.2,35.0,0.6),(21.8,32.0,0.75),(22.1,29.3,0.6),(22.3,28.2,0.5),
         (21.6,28.6,0.55),(21.0,28.2,0.55),(20.3,26.7,0.6),(19.2,25.1,0.6),(23.0,23.4,0.6),(23.9,26.6,0.6),(24.2,29.3,0.6),(30.4,23.6,0.55),
         (28.5,21.8,0.5),(27.7,21.1,0.6),(24.2,19.7,0.55),(23.3,19.9,0.6),(31.7,30.7,0.85),(32.2,29.3,0.8),(24.5,34.2,0.5),(38.7,38.9,0.65),
         (39.1,38.1,0.85)]

# ---------------- Panel 7: Caceres ----------------
P7_CI = [(4.8,33.1),(9.8,30.8),(9.8,30.6),(17.5,29.2),(7.8,23.3),(32.4,24.7),(23.8,18.9),(21.9,18.0),(21.0,14.7),(2.2,15.5),
         (5.9,15.6),(8.0,12.2),(10.1,12.9),(12.6,12.9),(8.0,9.8),(10.1,11.1),(5.2,7.6),(5.7,5.5),(12.2,6.4),(14.4,2.1),
         (16.8,0.8),(16.6,6.4),(18.9,10.1),(17.4,16.5),(20.7,5.2),(21.8,5.9),(22.3,4.6),(22.5,3.4),(20.5,3.1),(27.2,9.5),
         (28.2,9.0),(28.0,7.5),(26.7,5.2),(27.2,4.1),(28.2,3.6),(26.9,10.1),(31.9,10.8),(33.0,1.0),(34.5,0.8)]
P7_CR = [(6.5,39.0),(7.3,38.1),(17.4,36.3),(18.6,35.6),(19.7,36.3),(17.8,34.3),(17.6,33.0),(19.7,32.7),(21.8,37.1),(22.5,37.1),
         (23.3,36.3),(24.6,35.8),(24.9,34.8),(25.6,34.0),(26.7,37.9),(27.7,38.1),(27.5,36.6),(25.1,37.4),(31.2,39.5),(31.3,37.9),
         (30.1,39.0),(34.7,39.0),(35.7,39.0),(34.5,34.3),(36.8,33.8),(35.2,32.0),(37.3,32.0),(38.1,32.0),(38.6,33.0),(39.9,33.0),
         (37.6,30.9),(39.6,30.4),(38.1,28.9),(38.9,29.6),(37.3,27.6),(36.3,27.1),(37.6,26.5),(38.6,27.6),(35.0,25.0),(35.2,23.3),
         (36.0,23.4),(37.6,23.6),(33.5,26.1),(29.5,22.7),(30.1,22.2),(26.9,23.7),(27.2,20.6),(28.1,21.1),(34.5,14.8),(28.9,12.7),
         (27.6,11.7),(30.3,10.8),(31.3,11.6),(32.4,11.5),(33.2,11.7),(33.3,10.3),(31.2,10.0),(31.9,8.0),(33.4,7.5),(34.5,7.5),
         (35.7,7.5),(32.4,7.0),(34.5,5.9),(35.5,5.9),(37.0,5.9),(38.2,5.9),(34.7,4.9),(33.2,4.9),(31.9,3.6),(37.6,4.1),
         (38.6,3.9),(38.9,2.8),(39.6,0.2),(35.3,1.8),(34.7,1.5),(33.9,1.8),(31.2,0.3),(29.3,1.8),(27.2,0.8),(25.6,1.0),
         (24.9,1.8),(24.4,3.1),(24.1,6.2),(24.1,3.9),(23.1,0.3),(22.0,1.0),(21.0,0.5),(20.2,0.3),(19.2,1.5),(19.9,3.9),
         (18.4,4.9),(18.9,6.4),(17.1,4.9),(15.8,3.9),(14.8,4.4),(14.0,4.6),(12.7,4.1),(11.7,4.6),(10.6,3.4),(11.7,3.1),
         (13.0,3.1),(13.2,1.5),(11.9,1.5),(14.8,1.8),(15.5,1.0),(16.3,1.5),(6.7,1.4),(8.0,6.0),(6.7,6.0),(3.4,6.2),
         (3.9,4.4),(4.4,4.9),(6.2,7.5),(7.0,8.0),(5.7,8.5),(4.4,9.0),(3.4,9.5),(2.6,10.0),(1.8,9.0),(3.4,8.0),
         (8.8,8.0),(9.6,9.0),(10.6,9.0),(11.7,9.8),(12.7,10.1),(13.7,9.5),(14.8,9.0),(15.8,10.1),(16.8,10.8),(17.9,9.0),
         (15.8,7.0),(14.8,7.5),(13.2,7.5),(10.6,7.0),(9.6,5.9),(3.9,13.9),(2.6,13.1),(3.6,15.0),(1.6,14.4),(6.5,14.4),
         (7.3,15.5),(8.0,16.8),(5.2,18.0),(4.1,18.3),(2.6,18.3),(1.5,20.6),(3.6,20.9),(3.9,22.2),(7.8,19.9),(7.1,18.8),
         (9.6,13.1),(10.6,14.2),(11.7,13.4),(13.2,12.1),(14.8,13.7),(15.8,12.6),(16.8,13.1),(17.9,13.9),(18.9,12.6),(19.9,13.4),
         (18.4,14.7),(19.4,15.2),(15.8,15.5),(14.8,16.2),(13.7,16.5),(12.7,16.0),(18.4,17.3),(19.7,17.8),(20.4,18.3),(19.7,19.6),
         (18.9,20.1),(18.4,20.6),(22.5,18.3),(23.1,17.3),(24.4,16.2),(24.1,20.1),(5.7,32.2),(8.8,32.2),(9.1,30.7),(11.4,30.9),
         (10.6,29.9),(8.8,29.4),(7.5,30.2),(6.2,28.9),(5.7,28.1),(6.2,26.8),(11.1,27.8),(12.2,32.0),(13.5,27.8),(13.9,26.8),
         (14.8,26.0),(15.5,29.4),(15.8,28.4),(17.4,26.0),(21.2,27.1),(23.2,31.4),(14.8,24.5),(15.8,24.7),(14.2,24.7),(15.5,22.9),
         (15.8,21.9),(7.3,23.2),(8.5,22.7),(9.1,22.2),(26.7,20.4),(27.7,21.1)]
P7_SQ = [(2.5,40.0,0.45),(3.0,37.5,0.6),(1.5,37.0,0.9),(3.5,36.0,0.55),(5.0,37.0,0.6),(6.0,39.5,0.55),(7.5,39.5,0.7),(8.5,38.5,0.5),
         (9.5,39.5,0.55),(11.5,39.5,0.75),(6.5,36.5,0.7),(8.0,35.0,0.65),(4.5,34.0,0.75),(6.0,32.0,0.6),(8.5,31.5,0.55),(7.5,30.5,0.5),
         (5.5,30.0,0.6),(9.5,28.5,0.65),(11.0,29.5,0.6),(12.5,28.0,0.55),(14.0,32.5,0.7),(15.0,32.5,0.6),(16.0,32.5,0.6),(17.5,32.0,0.7),
         (18.5,30.0,0.75),(18.5,28.5,0.7),(19.5,29.0,0.75),(17.0,31.0,0.55),(15.0,34.5,0.85),(14.0,30.0,0.75),(12.5,30.5,0.8),(16.5,36.0,0.8),
         (20.0,38.5,0.85),(22.0,39.0,0.6),(23.5,39.0,0.85),(22.0,36.5,0.55),(24.0,36.0,0.5),(25.0,38.0,0.6),(26.0,37.0,0.55),(27.0,35.5,0.6),
         (28.5,36.5,0.5),(29.5,36.0,0.65),(30.5,37.0,0.6),(33.0,38.5,0.6),(34.0,37.5,0.55),(35.0,38.0,0.5),(36.0,38.5,0.55),(32.0,36.0,0.85),
         (33.5,36.0,0.6),(21.0,33.5,0.6),(22.0,33.0,0.65),(23.0,32.5,0.8),(24.5,33.5,0.5),(25.0,31.5,0.55),(26.0,30.5,0.85),(27.0,31.0,0.85),
         (28.5,32.0,0.55),(29.0,29.0,0.5),(34.0,33.5,0.8),(35.5,34.0,0.55),(37.0,34.0,0.5),(38.0,33.0,0.6),(36.5,30.5,0.75),(37.5,29.0,0.5),
         (36.0,28.5,0.6),(35.0,28.0,0.55),(34.0,27.0,0.6),(33.5,29.0,0.75),(32.0,28.0,0.85),(30.5,27.0,0.8),(31.0,25.5,0.6),(29.5,24.5,0.5),
         (28.0,23.5,0.85),(27.0,22.5,0.75),(26.5,21.0,0.7),(25.5,22.5,0.65),(24.0,23.5,0.55),(22.5,24.0,0.75),(21.5,25.5,0.6),(20.0,26.0,0.7),
         (18.0,27.5,0.6),(16.0,26.5,0.55),(14.5,27.5,0.75),(13.0,26.0,0.6),(12.0,25.5,0.5),(11.0,24.0,0.55),(10.5,25.5,0.6),(9.0,25.0,0.7),
         (8.0,25.5,0.75),(6.0,25.0,0.6),(4.5,24.5,0.75),(3.0,25.5,0.85),(1.5,27.5,0.9),(8.5,22.0,0.55),(9.5,20.5,0.6),(10.5,19.5,0.55),
         (12.0,21.0,0.6),(13.5,20.0,0.75),(14.5,20.5,0.65),(16.0,21.5,0.7),(17.0,22.0,0.6),(19.0,22.5,0.85),(6.5,20.0,0.6),(5.5,19.0,0.55),
         (4.0,18.5,0.6),(2.5,17.0,0.55),(1.0,16.0,0.6),(0.5,17.5,0.5),(1.0,13.5,0.65),(0.5,12.0,0.7),(1.5,11.0,0.55),(0.0,6.0,0.8),
         (2.0,8.5,0.55),(2.5,6.5,0.6),(4.0,8.5,0.5),(5.0,10.5,0.55),(6.0,11.0,0.6),(7.0,9.5,0.5),(9.0,10.5,0.55),(10.0,11.5,0.6),
         (11.0,12.0,0.5),(12.0,11.0,0.55),(13.5,11.5,0.6),(14.0,14.5,0.55),(15.0,15.0,0.6),(16.5,15.0,0.5),(17.5,15.0,0.55),(19.0,14.0,0.6),
         (20.5,12.0,0.55),(21.5,12.5,0.6),(22.5,11.0,0.55),(23.5,10.0,0.6),(24.5,11.5,0.5),(25.5,10.5,0.55),(26.5,12.0,0.6),(28.0,12.5,0.55),
         (29.5,11.0,0.6),(30.5,12.5,0.55),(31.5,13.0,0.6),(33.0,12.5,0.75),(34.5,12.0,0.55),(35.5,11.5,0.6),(36.5,12.5,0.55),(37.5,11.0,0.6),
         (38.0,9.0,0.55),(39.0,8.0,0.6),(36.5,9.5,0.65),(35.0,8.5,0.55),(33.5,9.0,0.6),(32.0,9.5,0.55),(30.5,8.5,0.5),(29.0,7.0,0.55),
         (27.5,6.0,0.6),(26.0,6.5,0.55),(25.0,7.5,0.6),(23.5,8.0,0.55),(22.0,8.5,0.6),(20.0,8.0,0.55),(19.0,9.0,0.5),(17.5,7.5,0.55),
         (16.0,8.5,0.6),(14.5,6.0,0.55),(13.0,5.5,0.6),(12.0,7.0,0.55),(10.5,5.5,0.6),(9.0,4.0,0.65),(8.0,3.0,0.55),(10.0,2.5,0.75),
         (12.5,1.0,0.6),(14.0,0.5,0.55),(15.5,2.5,0.6),(17.0,1.0,0.7),(18.5,0.5,0.6),(19.5,2.5,0.85),(21.0,2.0,0.6),(22.5,0.5,0.55),
         (23.5,2.0,0.6),(25.0,0.5,0.55),(26.5,2.5,0.6),(28.0,1.5,0.55),(29.0,3.0,0.6),(30.5,2.5,0.75),(31.5,4.5,0.6),(32.5,3.5,0.55),
         (33.5,5.5,0.6),(35.0,4.0,0.55),(36.5,3.0,0.6),(37.5,2.0,0.65),(38.5,1.5,0.8),(39.0,5.0,0.6),(39.5,3.5,0.55),(38.5,6.5,0.6),
         (36.0,14.5,0.75),(37.5,14.0,0.8),(34.0,15.0,0.65),(25.5,16.5,0.6),(27.0,14.5,0.55),(39.0,17.5,0.9),(35.5,22.5,0.75),(31.5,21.0,0.85)]

# ---------------- Panel 8: Badajoz ----------------
P8_CI = [(12.0,25.9),(12.2,26.1),(6.1,23.8),(30.2,17.3),(29.3,15.0),(37.1,4.5)]
P8_CR = [(2.6,40.0),(3.7,38.5),(3.0,37.2),(4.0,36.2),(7.5,36.5),(12.4,34.9),(13.0,32.9),(15.7,33.6),(24.8,35.5),(20.6,30.2),
         (20.9,28.9),(31.8,30.6),(4.4,26.9),(5.6,26.7),(6.9,26.9),(7.8,26.6),(8.8,26.6),(9.8,26.3),(4.9,24.9),(5.8,25.2),
         (7.2,25.4),(5.8,23.1),(6.6,22.1),(7.9,22.9),(14.1,25.3),(15.7,25.4),(15.4,24.0),(12.8,19.1),(14.3,17.5),(19.6,19.7),
         (24.8,24.0),(25.3,21.8),(30.5,26.3),(29.5,25.3),(35.7,27.2),(36.2,25.9),(37.5,23.7),(37.5,22.7),(38.6,21.8),(18.6,16.2),
         (17.7,14.5),(20.9,12.9),(14.1,11.1),(16.4,10.5),(10.1,9.2),(12.8,6.6),(17.3,4.0),(16.9,3.4),(16.0,2.0),(15.1,1.8),
         (13.5,0.7),(35.3,11.6),(35.9,5.7),(32.6,2.7),(35.6,2.0),(31.3,0.5)]
P8_SQ = [(12.6,39.3,0.5),(15.3,39.3,0.85),(19.1,38.6,0.95),(12.3,36.0,0.85),(16.5,33.4,0.8),(8.3,32.1,0.45),(9.7,29.7,0.85),(22.4,30.4,0.85),
         (4.0,27.7,0.8),(3.8,26.8,0.8),(4.8,25.9,0.5),(6.2,26.4,0.6),(8.4,25.4,0.75),(8.9,25.1,0.75),(9.7,24.5,0.85),(7.4,24.2,0.6),
         (7.6,23.1,0.6),(8.1,22.8,0.45),(5.5,21.9,0.85),(7.7,20.8,0.6),(7.7,19.8,0.9),(11.6,27.5,0.55),(11.6,20.9,0.55),(12.3,19.8,0.5),
         (15.6,25.8,0.75),(15.9,24.5,0.75),(-0.2,20.6,0.45),(-0.1,19.8,0.85),(1.5,19.2,0.95),(7.4,13.1,0.85),(5.1,10.4,0.9),(9.1,10.7,0.75),
         (10.6,7.8,0.8),(12.7,8.4,0.65),(12.8,7.7,0.5),(14.6,9.3,0.6),(13.9,3.5,0.5),(15.3,2.7,0.55),(12.9,1.4,0.85),(17.8,0.8,0.55),
         (20.8,0.2,0.55),(21.7,2.8,0.5),(18.8,7.2,0.85),(18.2,15.9,0.6),(18.5,16.5,0.8),(23.4,15.3,0.5),(23.4,13.1,0.65),(18.8,11.8,0.95),
         (27.6,18.2,0.5),(27.9,16.9,0.45),(29.9,17.9,0.5),(29.9,16.5,0.6),(32.5,15.6,0.9),(33.1,20.6,0.8),(37.1,19.5,0.8),(29.9,27.8,0.45),
         (29.1,26.8,0.5),(28.9,25.5,0.55),(29.5,24.9,0.75),(32.5,27.1,0.75),(33.1,28.7,0.6),(34.2,27.8,0.5),(35.2,26.2,0.55),(36.5,26.8,0.55),
         (31.9,32.4,0.5),(31.6,39.2,0.85),(31.6,36.6,0.85),(31.6,35.6,0.8),(34.5,38.0,0.5),(39.1,33.0,0.6),(39.7,32.6,0.65),(29.2,5.0,0.65),
         (29.5,4.8,0.75),(31.9,4.1,0.5),(32.4,3.5,0.6),(33.7,4.5,0.85),(34.4,2.2,0.5),(35.1,4.8,0.5),(35.5,1.4,0.6),(36.4,6.7,0.45),
         (33.1,5.9,0.95),(30.6,0.9,0.6),(28.2,0.5,0.55),(27.2,3.8,0.95),(37.2,0.5,0.45),(38.5,1.2,0.65),(38.8,1.2,0.8),(38.5,0.4,0.85)]

# ---------------- Panel 9: Jaen ----------------
P9_CI = [(30.8,38.5),(35.6,37.9),(38.6,33.2),(39.2,32.7),(38.3,23.8),(0.0,25.1),(1.9,22.5),(8.7,18.5),(16.9,4.5)]
P9_CR = [(31.3,37.4),(35.4,36.7),(36.3,37.8),(37.6,37.8),(39.4,38.4),(40.1,33.9),(31.7,33.6),(32.2,26.2),(4.7,29.6),(5.0,28.0),
         (4.7,25.2),(5.3,22.3),(2.9,19.4),(12.8,19.4),(14.8,16.1),(21.1,18.0),(21.4,16.1),(32.2,13.1),(17.4,8.9),(16.8,1.0),
         (26.3,3.1),(40.0,1.0),(0.4,10.6)]
P9_SQ = [(29.7,36.9,0.4),(30.0,35.4,0.45),(29.4,34.6,0.4),(27.2,33.0,0.55),(26.8,31.3,0.4),(28.1,31.3,0.5),(29.4,32.6,0.45),(34.0,35.3,0.55),
         (35.0,31.3,0.45),(34.7,30.0,0.65),(31.7,29.4,0.5),(30.4,29.0,0.75),(29.4,27.1,0.45),(29.8,27.1,0.45),(34.7,28.0,0.85),(35.0,27.1,0.4),
         (39.6,30.4,0.6),(13.7,32.6,0.9),(14.3,32.3,0.9),(4.1,30.1,0.5),(2.6,28.0,0.6),(4.1,24.2,0.45),(4.5,26.1,0.65),(5.8,25.8,0.65),
         (0.3,23.5,0.85),(4.1,20.6,0.65),(3.1,20.2,0.7),(2.5,18.9,0.65),(9.7,21.2,0.45),(10.7,21.9,0.55),(10.3,22.1,0.8),(11.7,18.5,0.45),
         (13.7,18.5,0.65),(15.9,27.4,0.9),(16.6,22.8,0.85),(18.9,26.6,0.9),(19.2,25.5,0.45),(15.9,17.2,0.5),(15.3,14.9,0.5),(20.1,18.2,0.75),
         (20.5,14.2,0.65),(22.8,15.3,0.5),(21.6,12.3,0.8),(17.2,12.1,0.8),(17.6,8.0,0.7),(15.6,7.4,0.85),(15.9,2.2,0.75),(15.3,0.3,0.85),
         (18.5,0.3,0.8),(17.6,4.1,0.7),(6.7,11.0,0.5),(0.3,11.6,0.45),(32.4,15.9,0.85),(32.0,11.0,0.45),(37.0,12.3,0.85),(38.2,14.6,0.6),
         (36.0,1.6,0.75)]

PANELS = [(P1_SQ, P1_CR, P1_CI), (P2_SQ, P2_CR, P2_CI), (P3_SQ, P3_CR, P3_CI),
          (P4_SQ, P4_CR, P4_CI), (P5_SQ, P5_CR, P5_CI), (P6_SQ, P6_CR, P6_CI),
          (P7_SQ, P7_CR, P7_CI), (P8_SQ, P8_CR, P8_CI), (P9_SQ, P9_CR, P9_CI)]

sns.set_theme(style="ticks")
plt.rcParams['font.family'] = ['Liberation Sans', 'DejaVu Sans']

FW, FH = 1010, 1024
fig = plt.figure(figsize=(FW / 100, FH / 100), dpi=100)
fig.patch.set_facecolor("white")
LEFTS = [63, 393, 723]
TOPS = [32, 361, 690]
W, H = 280, 277

for i, (title, (sq, cr, ci)) in enumerate(zip(TITLES, PANELS)):
    r, c = divmod(i, 3)
    ax = fig.add_axes([LEFTS[c] / FW, 1 - (TOPS[r] + H) / FH, W / FW, H / FH])
    ax.set_facecolor("white")
    dsq = pd.DataFrame(sq, columns=["x", "y", "g"])
    dcr = pd.DataFrame(cr, columns=["x", "y"])
    dci = pd.DataFrame(ci, columns=["x", "y"])
    sns.scatterplot(data=dsq, x="x", y="y", hue="g", palette="gray", hue_norm=(0, 1.1),
                    marker="s", s=15, linewidth=0, legend=False, ax=ax, zorder=2)
    sns.scatterplot(data=dcr, x="x", y="y", marker="+", s=38, color="#1a1a1a",
                    linewidth=1.9, legend=False, ax=ax, zorder=3)
    sns.scatterplot(data=dci, x="x", y="y", marker="o", s=60, color="black",
                    linewidth=0, legend=False, ax=ax, zorder=4)
    ax.set_xlim(-1.6, 41.6)
    ax.set_ylim(-1.6, 41.6)
    ax.set_xticks(TICKS)
    ax.set_yticks(TICKS)
    ax.set_xlabel("")
    ax.set_ylabel("")
    for sp in ax.spines.values():
        sp.set_visible(True)
        sp.set_color("black")
        sp.set_linewidth(1.2)
    ax.tick_params(axis="both", direction="out", length=7, width=1.1, color="black",
                   labelsize=19, labelcolor="black")
    ax.tick_params(axis="y", pad=12, labelleft=(c == 0))
    ax.tick_params(axis="x", pad=9, labelbottom=(r == 2))
    ax.set_title(title, loc="right", fontsize=19, fontweight="bold", pad=2, color="black")

fig.savefig("out.png", dpi=100, facecolor="white")
